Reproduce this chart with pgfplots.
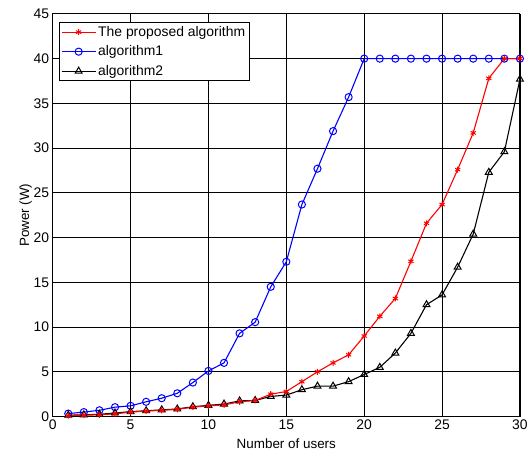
\documentclass[border=0pt]{standalone}
\usepackage{fontspec}
\setmainfont{Liberation Sans}
\usepackage{pgfplots}
\pgfplotsset{compat=1.18}

\pgfplotsset{
  prop/.style={red, line width=1.1pt, mark=asterisk, mark size=3pt, mark options={solid, line width=1pt}},
  alg1/.style={blue, line width=1.1pt, mark=o, mark size=3.6pt, mark options={solid, line width=1pt}},
  alg2/.style={black, line width=1.1pt, mark=triangle, mark size=4pt, mark options={solid, line width=1pt}},
}

\begin{document}
\begin{tikzpicture}
\begin{axis}[
  scale only axis,
  width=470pt, height=405pt,
  xmin=0, xmax=30, ymin=0, ymax=45,
  xtick={0,5,...,30}, ytick={0,5,...,45},
  grid=major,
  grid style={black, line width=0.9pt},
  axis line style={black, line width=1pt},
  tick style={black, line width=0.9pt},
  major tick length=5pt,
  tick align=inside,
  xtick pos=both, ytick pos=both,
  font=\fontsize{13.5}{15}\selectfont,
  /pgf/number format/assume math mode=true,
  ticklabel style={font=\fontsize{14}{15}\selectfont},
  xlabel={Number of users},
  ylabel={Power (W)},
  xlabel style={font=\fontsize{13.5}{15}\selectfont, yshift=-2pt},
  ylabel style={font=\fontsize{13.5}{15}\selectfont, yshift=-5pt},
  legend style={at={(6pt,397pt)}, anchor=north west, draw=black, line width=1pt,
    font=\fontsize{14}{16}\selectfont, inner xsep=2pt, inner ysep=2pt,
    row sep=4pt, cells={anchor=west}},
  legend cell align=left,
  legend image code/.code={\draw[mark repeat=2, mark phase=2] plot coordinates {(0cm,0cm) (0.6cm,0cm) (1.2cm,0cm)};},
]
\addlegendimage{prop}
\addlegendentry{The proposed algorithm}
\addlegendimage{alg1}
\addlegendentry{algorithm1}
\addlegendimage{alg2}
\addlegendentry{algorithm2}

% algorithm1
\addplot[alg1, forget plot] coordinates {
(1,0.33) (2,0.5) (3,0.7) (4,1.05) (5,1.2) (6,1.65) (7,2.05) (8,2.6) (9,3.8) (10,5.1)
(11,6.0) (12,9.3) (13,10.55) (14,14.5) (15,17.3) (16,23.7) (17,27.7) (18,31.9) (19,35.7) (20,40)
(21,40) (22,40) (23,40) (24,40) (25,40) (26,40) (27,40) (28,40) (29,40) (30,40)
};
% algorithm2
\addplot[alg2, forget plot] coordinates {
(1,0.15) (2,0.2) (3,0.25) (4,0.4) (5,0.55) (6,0.65) (7,0.75) (8,0.85) (9,1.1) (10,1.25)
(11,1.4) (12,1.75) (13,1.8) (14,2.25) (15,2.4) (16,3.0) (17,3.4) (18,3.4) (19,3.9) (20,4.7)
(21,5.5) (22,7.1) (23,9.3) (24,12.5) (25,13.6) (26,16.7) (27,20.4) (28,27.3) (29,29.6) (30,37.7)
};
% proposed
\addplot[prop, forget plot] coordinates {
(1,0.1) (2,0.15) (3,0.2) (4,0.3) (5,0.5) (6,0.6) (7,0.7) (8,0.8) (9,1.05) (10,1.2)
(11,1.3) (12,1.65) (13,1.8) (14,2.5) (15,2.8) (16,3.9) (17,5.0) (18,6.0) (19,6.9) (20,9.0)
(21,11.2) (22,13.2) (23,17.35) (24,21.6) (25,23.7) (26,27.6) (27,31.7) (28,37.8) (29,40) (30,40)
};
\end{axis}
\path ([shift={(-53pt,-39pt)}]current axis.south west) rectangle ([shift={(8pt,14pt)}]current axis.north east);
\end{tikzpicture}
\end{document}
